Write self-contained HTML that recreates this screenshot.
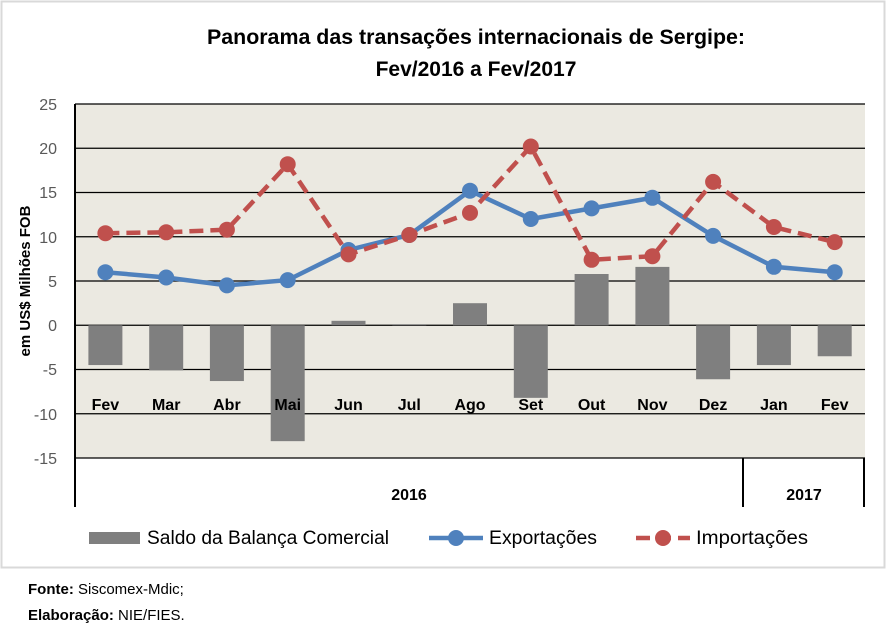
<!DOCTYPE html>
<html><head><meta charset="utf-8"><style>
body{margin:0;background:#fff;width:888px;height:639px;overflow:hidden}
svg{display:block;font-family:"Liberation Sans",sans-serif}
</style></head><body>
<svg width="888" height="639" xmlns="http://www.w3.org/2000/svg">
<rect x="1.5" y="1.5" width="883" height="566" fill="#fff" stroke="#d9d9d9" stroke-width="2"/>
<text x="476" y="44" font-size="21" font-weight="bold" text-anchor="middle" textLength="538" lengthAdjust="spacingAndGlyphs">Panorama das transações internacionais de Sergipe:</text>
<text x="476" y="76" font-size="21" font-weight="bold" text-anchor="middle">Fev/2016 a Fev/2017</text>
<rect x="75" y="104" width="790" height="354" fill="#ebe9e1"/>
<g stroke="#000" stroke-width="1.2">
<line x1="75" y1="104" x2="865" y2="104"/><line x1="75" y1="148.25" x2="865" y2="148.25"/>
<line x1="75" y1="192.5" x2="865" y2="192.5"/><line x1="75" y1="236.75" x2="865" y2="236.75"/>
<line x1="75" y1="281" x2="865" y2="281"/><line x1="75" y1="325.25" x2="865" y2="325.25"/>
<line x1="75" y1="369.5" x2="865" y2="369.5"/><line x1="75" y1="413.75" x2="865" y2="413.75"/>
<line x1="75" y1="458" x2="865" y2="458"/>
</g>
<g stroke="#000" stroke-width="2">
<line x1="75" y1="104" x2="75" y2="507"/><line x1="743" y1="458" x2="743" y2="507"/><line x1="864" y1="458" x2="864" y2="507"/>
</g>
<g fill="#595959" font-size="16" text-anchor="end">
<text x="57" y="110">25</text><text x="57" y="154">20</text><text x="57" y="198">15</text><text x="57" y="243">10</text><text x="57" y="287">5</text><text x="57" y="331">0</text><text x="57" y="375">-5</text><text x="57" y="420">-10</text><text x="57" y="464">-15</text>
</g>
<text transform="translate(30,281) rotate(-90)" font-size="15" font-weight="bold" text-anchor="middle">em US$ Milhões FOB</text>
<g fill="#7f7f7f">
<rect x="88.4" y="325.25" width="34" height="39.8"/><rect x="149.2" y="325.25" width="34" height="45.1"/>
<rect x="209.9" y="325.25" width="34" height="55.8"/><rect x="270.7" y="325.25" width="34" height="115.9"/>
<rect x="331.5" y="320.8" width="34" height="4.4"/><rect x="392.3" y="324.2" width="34" height="1"/>
<rect x="453" y="303.2" width="34" height="22.1"/><rect x="513.8" y="325.25" width="34" height="72.6"/>
<rect x="574.6" y="274" width="34" height="51.3"/><rect x="635.4" y="266.9" width="34" height="58.4"/>
<rect x="696.1" y="325.25" width="34" height="54"/><rect x="756.9" y="325.25" width="34" height="39.8"/>
<rect x="817.7" y="325.25" width="34" height="31"/>
</g>
<g font-size="16" font-weight="bold" text-anchor="middle">
<text x="105.4" y="410">Fev</text><text x="166.2" y="410">Mar</text><text x="226.9" y="410">Abr</text><text x="287.7" y="410">Mai</text><text x="348.5" y="410">Jun</text><text x="409.3" y="410">Jul</text><text x="470" y="410">Ago</text><text x="530.8" y="410">Set</text><text x="591.6" y="410">Out</text><text x="652.4" y="410">Nov</text><text x="713.1" y="410">Dez</text><text x="773.9" y="410">Jan</text><text x="834.7" y="410">Fev</text>
<text x="409" y="500">2016</text><text x="804" y="500">2017</text>
</g>
<polyline fill="none" stroke="#4f81bd" stroke-width="4.5" points="105.4,272.2 166.2,277.5 226.9,285.4 287.7,280.1 348.5,250 409.3,235 470,190.7 530.8,219 591.6,208.4 652.4,197.8 713.1,235.9 773.9,266.8 834.7,272.2"/>
<g fill="#4f81bd">
<circle cx="105.4" cy="272.2" r="8"/><circle cx="166.2" cy="277.5" r="8"/><circle cx="226.9" cy="285.4" r="8"/><circle cx="287.7" cy="280.1" r="8"/><circle cx="348.5" cy="250" r="8"/><circle cx="409.3" cy="235" r="8"/><circle cx="470" cy="190.7" r="8"/><circle cx="530.8" cy="219" r="8"/><circle cx="591.6" cy="208.4" r="8"/><circle cx="652.4" cy="197.8" r="8"/><circle cx="713.1" cy="235.9" r="8"/><circle cx="773.9" cy="266.8" r="8"/><circle cx="834.7" cy="272.2" r="8"/>
</g>
<polyline fill="none" stroke="#c0504d" stroke-width="4.5" stroke-dasharray="14,7" points="105.4,233.2 166.2,232.3 226.9,229.7 287.7,164.2 348.5,254.4 409.3,235 470,212.9 530.8,146.5 591.6,259.8 652.4,256.2 713.1,181.9 773.9,227 834.7,242.1"/>
<g fill="#c0504d">
<circle cx="105.4" cy="233.2" r="8"/><circle cx="166.2" cy="232.3" r="8"/><circle cx="226.9" cy="229.7" r="8"/><circle cx="287.7" cy="164.2" r="8"/><circle cx="348.5" cy="254.4" r="8"/><circle cx="409.3" cy="235" r="8"/><circle cx="470" cy="212.9" r="8"/><circle cx="530.8" cy="146.5" r="8"/><circle cx="591.6" cy="259.8" r="8"/><circle cx="652.4" cy="256.2" r="8"/><circle cx="713.1" cy="181.9" r="8"/><circle cx="773.9" cy="227" r="8"/><circle cx="834.7" cy="242.1" r="8"/>
</g>
<rect x="89" y="532" width="51" height="12" fill="#7f7f7f"/>
<text x="147" y="544" font-size="19" textLength="242" lengthAdjust="spacingAndGlyphs">Saldo da Balança Comercial</text>
<line x1="429" y1="538" x2="483" y2="538" stroke="#4f81bd" stroke-width="4.5"/><circle cx="456" cy="538" r="8" fill="#4f81bd"/>
<text x="489" y="544" font-size="19" textLength="108" lengthAdjust="spacingAndGlyphs">Exportações</text>
<line x1="636" y1="538" x2="690" y2="538" stroke="#c0504d" stroke-width="4.5" stroke-dasharray="14,7"/><circle cx="663" cy="538" r="8" fill="#c0504d"/>
<text x="696" y="544" font-size="19" textLength="112" lengthAdjust="spacingAndGlyphs">Importações</text>
<text x="28" y="594" font-size="15"><tspan font-weight="bold">Fonte:</tspan> Siscomex-Mdic;</text>
<text x="28" y="620" font-size="15"><tspan font-weight="bold">Elaboração:</tspan> NIE/FIES.</text>
</svg>
</body></html>
